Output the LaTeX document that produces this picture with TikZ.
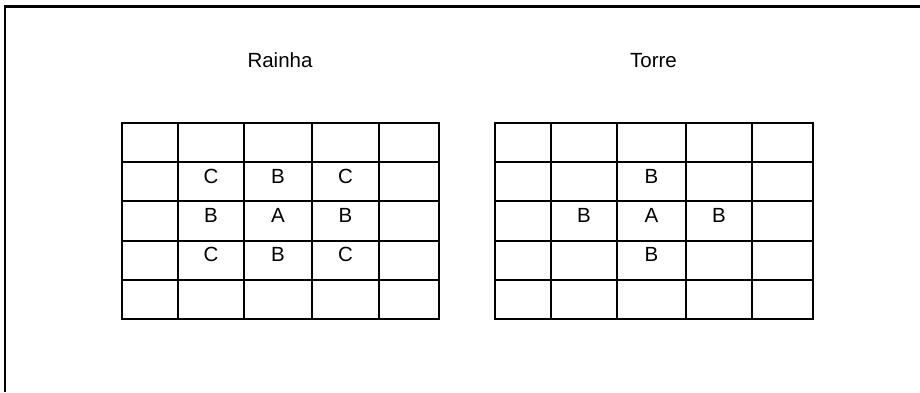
\documentclass[tikz,border=0pt]{standalone}
\usepackage{fontspec}
\setmainfont{Liberation Sans}
\begin{document}
\begin{tikzpicture}[x=1pt,y=-1pt,
  gridline/.style={line width=2pt,line cap=rect},
  frameline/.style={line width=2.2pt},
  title/.style={font=\fontsize{20.5}{24}\selectfont,anchor=base,inner sep=0pt},
  cell/.style={font=\fontsize{20.5}{24}\selectfont,anchor=base,inner sep=0pt}]
\useasboundingbox (0,0) rectangle (920,392);
% outer frame (only top and left edges visible)
\draw[frameline] (5,392) -- (5,6.5) -- (920,6.5);
% left board
\foreach \x in {122,178,244,312,379,439} \draw[gridline] (\x,123) -- (\x,319);
\foreach \y in {123,162,201,241,280,319} \draw[gridline] (122,\y) -- (439,\y);
% right board
\foreach \x in {495,551,617,686,752,813} \draw[gridline] (\x,123) -- (\x,319);
\foreach \y in {123,162,201,241,280,319} \draw[gridline] (495,\y) -- (813,\y);
% titles
\node[title] (rainha) at (280,67) {Rainha};
\node[title] (torre) at (653.5,67) {Torre};
% Rainha letters
\node[cell] (q11) at (211,183) {C};
\node[cell] (q12) at (278,183) {B};
\node[cell] (q13) at (345.5,183) {C};
\node[cell] (q21) at (211,222.5) {B};
\node[cell] (q22) at (278,222.5) {A};
\node[cell] (q23) at (345.5,222.5) {B};
\node[cell] (q31) at (211,261.7) {C};
\node[cell] (q32) at (278,261.7) {B};
\node[cell] (q33) at (345.5,261.7) {C};
% Torre letters
\node[cell] (t12) at (651.5,183) {B};
\node[cell] (t21) at (584,222.5) {B};
\node[cell] (t22) at (651.5,222.5) {A};
\node[cell] (t23) at (719,222.5) {B};
\node[cell] (t32) at (651.5,261.7) {B};
\end{tikzpicture}
\end{document}
